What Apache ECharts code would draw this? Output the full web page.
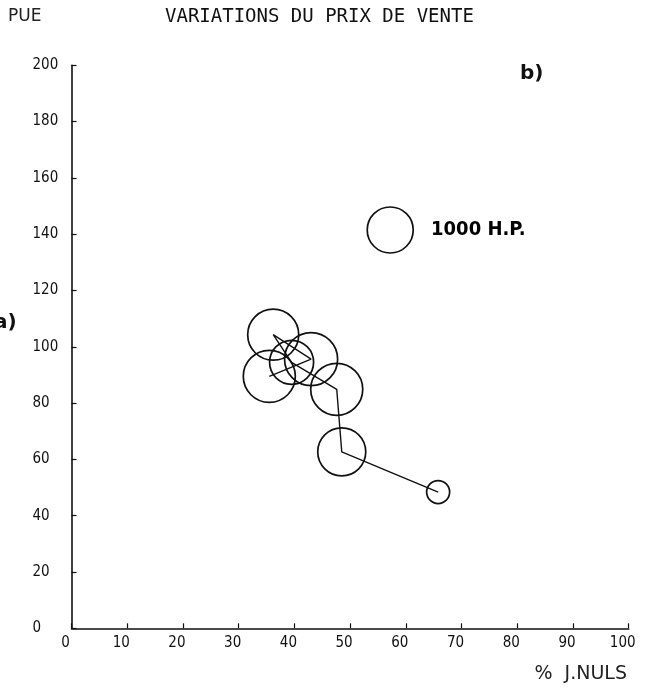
<!DOCTYPE html>
<html>
<head>
<meta charset="utf-8">
<script src="https://cdn.jsdelivr.net/npm/echarts@6/dist/echarts.min.js"></script>
<style>
html,body{margin:0;padding:0;background:#fff;}
#chart{width:655px;height:691px;}
</style>
</head>
<body>
<div id="chart"></div>
<script>
// Data
const pctJoursNuls = [35.5, 43.0, 36.2, 39.5, 47.6, 48.5, 65.8];
const pue          = [89.5, 95.6, 104.3, 94.5, 84.9, 62.7, 48.4];
const puissanceHP  = [1280, 1330, 1230, 915, 1280, 1090, 250];
const legendHP = 1000;
const legendPoint = [57.2, 141.5];
const xTicks = [0, 10, 20, 30, 40, 50, 60, 70, 80, 90, 100];
const yTicks = [0, 20, 40, 60, 80, 100, 120, 140, 160, 180, 200];

const REF_SIZE = 46; // diameter in px for 1000 H.P.
const sizeOf = hp => REF_SIZE * Math.sqrt(hp / legendHP);

const pts = pctJoursNuls.map((x, i) => [x, pue[i], puissanceHP[i]]);

const tickFont = "'DejaVu Sans Condensed','Liberation Sans Narrow','DejaVu Sans',sans-serif";
const chart = echarts.init(document.getElementById('chart'), null, {renderer: 'canvas'});
chart.setOption({
  backgroundColor: '#fff',
  animation: false,
  grid: {left: 71.5, right: 26.3, top: 65.3, bottom: 62.7, containLabel: false},
  xAxis: {
    type: 'value', min: xTicks[0], max: xTicks[xTicks.length - 1], interval: 10,
    axisLine: {show: true, lineStyle: {color: '#111', width: 1.6}},
    axisTick: {show: true, inside: true, length: 5, lineStyle: {color: '#111', width: 1.2}},
    axisLabel: {show: true, color: '#111', fontSize: 15, fontFamily: tickFont, margin: 7,
      padding: [0, 12, 0, 0]},
    splitLine: {show: false}
  },
  yAxis: {
    type: 'value', min: yTicks[0], max: yTicks[yTicks.length - 1], interval: 20,
    axisLine: {show: true, lineStyle: {color: '#111', width: 1.6}},
    axisTick: {show: true, inside: true, length: 5, lineStyle: {color: '#111', width: 1.2}},
    axisLabel: {show: true, color: '#111', fontSize: 15, fontFamily: tickFont, margin: 39,
      align: 'left', padding: [0, 0, 7, 0]},
    splitLine: {show: false}
  },
  series: [
    {
      type: 'line', data: pts.map(p => [p[0], p[1]]), showSymbol: false, symbol: 'none',
      lineStyle: {color: '#111', width: 1.4}, z: 2
    },
    {
      type: 'scatter', data: pts, symbol: 'circle',
      symbolSize: v => sizeOf(v[2]),
      itemStyle: {color: 'rgba(0,0,0,0)', borderColor: '#111', borderWidth: 1.7, opacity: 1}, z: 3
    },
    {
      type: 'scatter', data: [[legendPoint[0], legendPoint[1], legendHP]], symbol: 'circle',
      symbolSize: v => sizeOf(v[2]),
      itemStyle: {color: 'rgba(0,0,0,0)', borderColor: '#111', borderWidth: 1.7, opacity: 1},
      label: {show: true, position: 'right', distance: 17, formatter: legendHP + ' H.P.',
        color: '#000', fontSize: 20, fontWeight: 'bold',
        fontFamily: "'Liberation Sans Narrow','DejaVu Sans Condensed',sans-serif"}
    }
  ],
  graphic: [
    {type: 'text', left: 8, top: 8, style: {text: 'PUE', fontSize: 17, fill: '#222',
      fontFamily: "'Liberation Sans Narrow','DejaVu Sans',sans-serif"}},
    {type: 'text', left: 165, top: 8, style: {text: 'VARIATIONS DU PRIX DE VENTE', fontSize: 19,
      fill: '#111', fontFamily: "'DejaVu Sans Mono','Liberation Mono',monospace"}},
    {type: 'text', left: 520, top: 64, style: {text: 'b)', fontSize: 20, fontWeight: 'bold',
      fill: '#111', fontFamily: "'DejaVu Sans','Liberation Sans',sans-serif"}},
    {type: 'text', left: -6, top: 313, style: {text: 'a)', fontSize: 20, fontWeight: 'bold',
      fill: '#111', fontFamily: "'DejaVu Sans','Liberation Sans',sans-serif"}},
    {type: 'text', right: 28, top: 665, style: {text: '%  J.NULS', fontSize: 19, fill: '#222',
      fontFamily: "'Liberation Sans Narrow','DejaVu Sans',sans-serif"}}
  ]
});
</script>
</body>
</html>
